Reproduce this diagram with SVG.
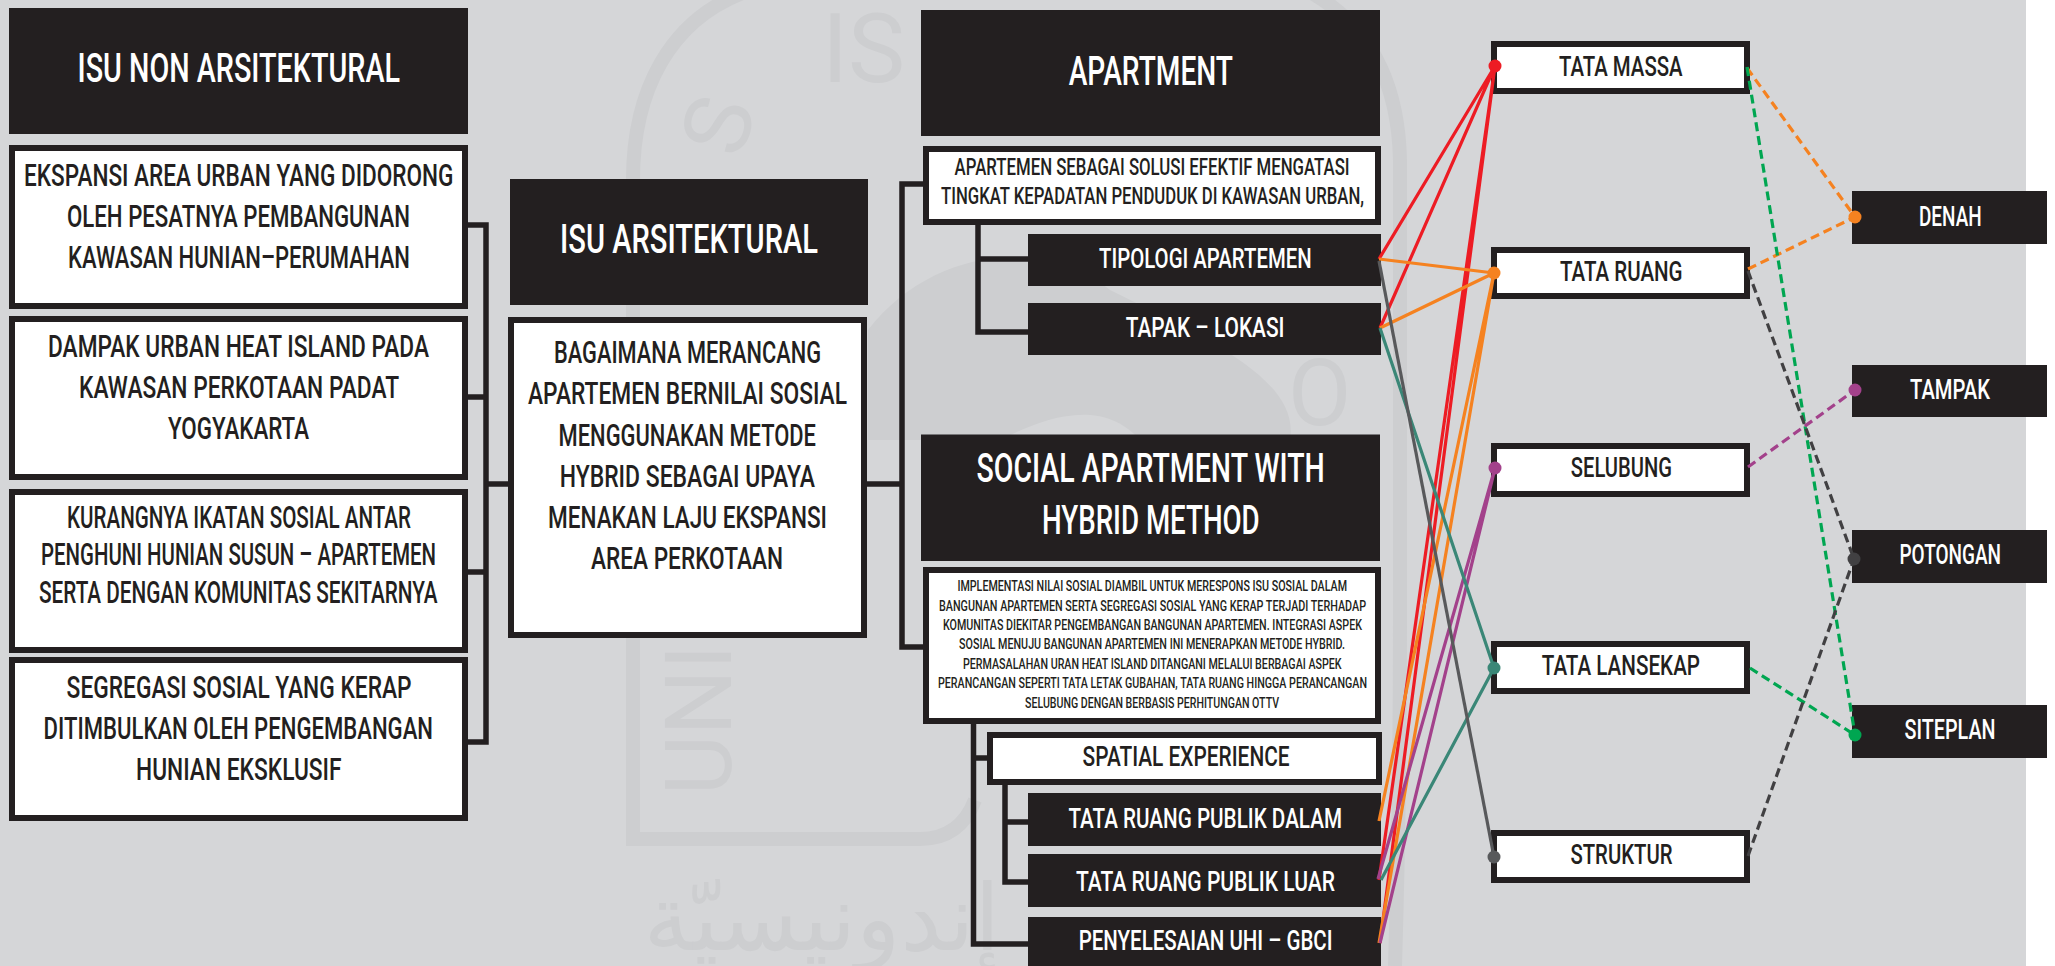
<svg xmlns="http://www.w3.org/2000/svg" width="2055" height="966" viewBox="0 0 2055 966">
<defs><style>
text{font-family:"Roboto","Liberation Sans",sans-serif;font-weight:500;text-anchor:start}
.d{fill:#231f20}
.w{fill:#fff;stroke:#231f20;stroke-width:6}
.tw{fill:#fff}
.tk{fill:#231f20}
.h{font-size:41px}
.b{font-size:30.5px}
.a{font-size:23px}
.s{font-size:15px}
.m{font-size:28px}
.t{fill:none;stroke:#231f20;stroke-width:5.5}
.c{fill:none;stroke-width:3.2}
.x{stroke-dasharray:9 5;stroke-width:3.2;fill:none}
.r{stroke:#ed1c24}.o{stroke:#f58220}.p{stroke:#a3418b}.g{stroke:#3a8777}.y{stroke:#58595b}.n{stroke:#00a651}.k{stroke:#414042}
.wm{fill:none;stroke:#cdced0;stroke-width:14}
.wt{fill:#cdced0;font-weight:400}
</style></defs>
<rect width="2055" height="966" fill="#fff"/>
<rect width="2026" height="966" fill="#d5d6d8"/>
<g id="watermark">
<path class="wm" d="M975 800Q960 839 920 839H633V180C633 90 670 20 745-8"/>
<path class="wm" d="M1395 966Q1400 800 1400 620V160C1398 70 1360 20 1310-8"/>
<path d="M868 330C930 250 1040 235 1110 290C1210 340 1300 380 1290 440H1140C1100 395 1040 420 1000 440L868 440Z" fill="#cdced0"/>
<text class="wt" x="822" y="82" font-size="96">IS</text>
<text class="wt" transform="translate(742 160) rotate(-75)" font-size="92">S</text>
<text class="wt" transform="translate(731 795) rotate(-90)" font-size="92">UNI</text>
<text class="wt" x="1288" y="425" font-size="92">O</text>
<text class="wt" x="1000" y="950" direction="rtl" font-size="92" style="font-family:'DejaVu Sans',sans-serif">إندونيسيّة</text>
</g>
<g id="trunks">
<path class="t" d="M468 225H486V742H468M468 397H486M468 572H486M486 484H512"/>
<path class="t" d="M867 484H902M923 184H902V647H923"/>
<path class="t" d="M978 225V332H1028M978 259H1028"/>
<path class="t" d="M973.500 724V944H1028M973.500 758H987"/>
<path class="t" d="M1005 785V882H1028M1005 822H1028"/>
</g>
<g id="isu-non-arsitektural"><rect class="d" x="9" y="8" width="459" height="126"/><text class="h tw" x="77.500" y="82" textLength="322.500" lengthAdjust="spacingAndGlyphs">ISU NON ARSITEKTURAL</text></g>
<g id="ekspansi"><rect class="w" x="12" y="148" width="453" height="158"/>
<text class="b tk" x="24" y="185.700" textLength="429.500" lengthAdjust="spacingAndGlyphs">EKSPANSI AREA URBAN YANG DIDORONG</text>
<text class="b tk" x="67" y="226.700" textLength="343" lengthAdjust="spacingAndGlyphs">OLEH PESATNYA PEMBANGUNAN</text>
<text class="b tk" x="68" y="267.700" textLength="342" lengthAdjust="spacingAndGlyphs">KAWASAN HUNIAN–PERUMAHAN</text></g>
<g id="dampak"><rect class="w" x="12" y="319" width="453" height="158"/>
<text class="b tk" x="48" y="356.700" textLength="381" lengthAdjust="spacingAndGlyphs">DAMPAK URBAN HEAT ISLAND PADA</text>
<text class="b tk" x="79" y="398" textLength="320" lengthAdjust="spacingAndGlyphs">KAWASAN PERKOTAAN PADAT</text>
<text class="b tk" x="168" y="439" textLength="141" lengthAdjust="spacingAndGlyphs">YOGYAKARTA</text></g>
<g id="kurangnya"><rect class="w" x="12" y="492" width="453" height="158"/>
<text class="b tk" x="67" y="527.700" textLength="344" lengthAdjust="spacingAndGlyphs">KURANGNYA IKATAN SOSIAL ANTAR</text>
<text class="b tk" x="41" y="565" textLength="395" lengthAdjust="spacingAndGlyphs">PENGHUNI HUNIAN SUSUN – APARTEMEN</text>
<text class="b tk" x="39" y="602.700" textLength="398.500" lengthAdjust="spacingAndGlyphs">SERTA DENGAN KOMUNITAS SEKITARNYA</text></g>
<g id="segregasi"><rect class="w" x="12" y="660" width="453" height="158"/>
<text class="b tk" x="66.600" y="698" textLength="345" lengthAdjust="spacingAndGlyphs">SEGREGASI SOSIAL YANG KERAP</text>
<text class="b tk" x="43.600" y="739" textLength="389.400" lengthAdjust="spacingAndGlyphs">DITIMBULKAN OLEH PENGEMBANGAN</text>
<text class="b tk" x="136" y="780" textLength="205.600" lengthAdjust="spacingAndGlyphs">HUNIAN EKSKLUSIF</text></g>
<g id="isu-arsitektural"><rect class="d" x="510" y="179" width="358" height="126"/><text class="h tw" x="560" y="252.700" textLength="258" lengthAdjust="spacingAndGlyphs">ISU ARSITEKTURAL</text></g>
<g id="bagaimana"><rect class="w" x="511" y="320" width="353" height="315"/>
<text class="b tk" x="554" y="363.300" textLength="267" lengthAdjust="spacingAndGlyphs">BAGAIMANA MERANCANG</text>
<text class="b tk" x="528" y="404" textLength="319" lengthAdjust="spacingAndGlyphs">APARTEMEN BERNILAI SOSIAL</text>
<text class="b tk" x="558.600" y="445.700" textLength="257.400" lengthAdjust="spacingAndGlyphs">MENGGUNAKAN METODE</text>
<text class="b tk" x="559.700" y="486.700" textLength="255.300" lengthAdjust="spacingAndGlyphs">HYBRID SEBAGAI UPAYA</text>
<text class="b tk" x="548" y="527.700" textLength="279" lengthAdjust="spacingAndGlyphs">MENAKAN LAJU EKSPANSI</text>
<text class="b tk" x="591" y="568.700" textLength="192" lengthAdjust="spacingAndGlyphs">AREA PERKOTAAN</text></g>
<g id="apartment"><rect class="d" x="921" y="10" width="459" height="126"/><text class="h tw" x="1068.700" y="85" textLength="164.300" lengthAdjust="spacingAndGlyphs">APARTMENT</text></g>
<g id="apartemen-desc"><rect class="w" x="926" y="149" width="452" height="73"/>
<text class="a tk" x="954.600" y="175.300" textLength="395" lengthAdjust="spacingAndGlyphs">APARTEMEN SEBAGAI SOLUSI EFEKTIF MENGATASI</text>
<text class="a tk" x="941" y="204.300" textLength="423" lengthAdjust="spacingAndGlyphs">TINGKAT KEPADATAN PENDUDUK DI KAWASAN URBAN,</text></g>
<g id="tipologi"><rect class="d" x="1028" y="234" width="353" height="52"/><text class="m tw" x="1099" y="268.300" textLength="212.700" lengthAdjust="spacingAndGlyphs">TIPOLOGI APARTEMEN</text></g>
<g id="tapak"><rect class="d" x="1028" y="303" width="353" height="52"/><text class="m tw" x="1125.700" y="337.300" textLength="158.800" lengthAdjust="spacingAndGlyphs">TAPAK – LOKASI</text></g>
<g id="social-apartment"><rect class="d" x="921" y="434.500" width="459" height="126.500"/>
<text class="h tw" x="976.500" y="481.700" textLength="348.300" lengthAdjust="spacingAndGlyphs">SOCIAL APARTMENT WITH</text>
<text class="h tw" x="1042" y="534" textLength="217.700" lengthAdjust="spacingAndGlyphs">HYBRID METHOD</text></g>
<g id="implementasi"><rect class="w" x="926" y="570" width="452" height="151"/>
<text class="s tk" x="957.400" y="590.700" textLength="389.600" lengthAdjust="spacingAndGlyphs">IMPLEMENTASI NILAI SOSIAL DIAMBIL UNTUK MERESPONS ISU SOSIAL DALAM</text>
<text class="s tk" x="939" y="610.700" textLength="427" lengthAdjust="spacingAndGlyphs">BANGUNAN APARTEMEN SERTA SEGREGASI SOSIAL YANG KERAP TERJADI TERHADAP</text>
<text class="s tk" x="942.900" y="630" textLength="419.100" lengthAdjust="spacingAndGlyphs">KOMUNITAS DIEKITAR PENGEMBANGAN BANGUNAN APARTEMEN. INTEGRASI ASPEK</text>
<text class="s tk" x="959" y="649" textLength="386" lengthAdjust="spacingAndGlyphs">SOSIAL MENUJU BANGUNAN APARTEMEN INI MENERAPKAN METODE HYBRID.</text>
<text class="s tk" x="963" y="669" textLength="378.600" lengthAdjust="spacingAndGlyphs">PERMASALAHAN URAN HEAT ISLAND DITANGANI MELALUI BERBAGAI ASPEK</text>
<text class="s tk" x="938" y="688" textLength="429" lengthAdjust="spacingAndGlyphs">PERANCANGAN SEPERTI TATA LETAK GUBAHAN, TATA RUANG HINGGA PERANCANGAN</text>
<text class="s tk" x="1025" y="708" textLength="254" lengthAdjust="spacingAndGlyphs">SELUBUNG DENGAN BERBASIS PERHITUNGAN OTTV</text></g>
<g id="spatial"><rect class="w" x="990" y="735" width="389" height="47"/><text class="m tk" x="1082.500" y="766" textLength="207.100" lengthAdjust="spacingAndGlyphs">SPATIAL EXPERIENCE</text></g>
<g id="publik-dalam"><rect class="d" x="1028" y="793" width="353" height="53"/><text class="m tw" x="1068.400" y="828" textLength="273.600" lengthAdjust="spacingAndGlyphs">TATA RUANG PUBLIK DALAM</text></g>
<g id="publik-luar"><rect class="d" x="1028" y="854" width="353" height="53"/><text class="m tw" x="1076" y="890.700" textLength="259" lengthAdjust="spacingAndGlyphs">TATA RUANG PUBLIK LUAR</text></g>
<g id="penyelesaian"><rect class="d" x="1028" y="917" width="353" height="49"/><text class="m tw" x="1078.700" y="950" textLength="253.800" lengthAdjust="spacingAndGlyphs">PENYELESAIAN UHI – GBCI</text></g>
<g id="tata-massa"><rect class="w" x="1494" y="44" width="253" height="47"/><text class="m tk" x="1559" y="76" textLength="123.600" lengthAdjust="spacingAndGlyphs">TATA MASSA</text></g>
<g id="tata-ruang"><rect class="w" x="1494" y="250" width="253" height="46"/><text class="m tk" x="1560" y="281" textLength="122.600" lengthAdjust="spacingAndGlyphs">TATA RUANG</text></g>
<g id="selubung"><rect class="w" x="1494" y="446" width="253" height="48"/><text class="m tk" x="1570.800" y="476.700" textLength="101.200" lengthAdjust="spacingAndGlyphs">SELUBUNG</text></g>
<g id="tata-lansekap"><rect class="w" x="1494" y="644" width="253" height="47"/><text class="m tk" x="1541.800" y="675" textLength="158.200" lengthAdjust="spacingAndGlyphs">TATA LANSEKAP</text></g>
<g id="struktur"><rect class="w" x="1494" y="833" width="253" height="47"/><text class="m tk" x="1570.400" y="864" textLength="102.200" lengthAdjust="spacingAndGlyphs">STRUKTUR</text></g>
<g id="denah"><rect class="d" x="1852" y="191" width="195" height="53"/><text class="m tw" x="1919" y="226" textLength="62.600" lengthAdjust="spacingAndGlyphs">DENAH</text></g>
<g id="tampak"><rect class="d" x="1852" y="365" width="195" height="52"/><text class="m tw" x="1910" y="399" textLength="80" lengthAdjust="spacingAndGlyphs">TAMPAK</text></g>
<g id="potongan"><rect class="d" x="1852" y="530" width="195" height="53"/><text class="m tw" x="1899.500" y="564" textLength="101.500" lengthAdjust="spacingAndGlyphs">POTONGAN</text></g>
<g id="siteplan"><rect class="d" x="1852" y="705" width="195" height="53"/><text class="m tw" x="1904.500" y="739.300" textLength="91" lengthAdjust="spacingAndGlyphs">SITEPLAN</text></g>
<g id="connectors">
<path class="c r" d="M1379 259L1495 66M1380 328L1495 66M1379 880L1495 66M1380 943L1495 66"/>
<path class="c o" d="M1379 259L1494 273M1380 328L1494 273M1379 821L1494 273M1379 943L1494 273"/>
<path class="c p" d="M1378 879L1495 468M1380 943L1495 468"/>
<path class="c g" d="M1380 328L1494 668M1381 880L1494 668"/>
<path class="c y" d="M1379 261L1494 857"/>
<path class="x o" d="M1747 68L1855 217M1748 269L1855 217"/>
<path class="x n" d="M1747 67L1855 735M1750 668L1855 735"/>
<path class="x k" d="M1748 271L1854 559M1748 856L1854 559"/>
<path class="x p" d="M1748 467L1855 390"/>
<circle cx="1495" cy="66" r="6.500" fill="#ed1c24"/>
<circle cx="1494" cy="273" r="6.500" fill="#f58220"/>
<circle cx="1495" cy="468" r="6.500" fill="#a3418b"/>
<circle cx="1494" cy="668" r="6.500" fill="#3a8777"/>
<circle cx="1494" cy="857" r="6.500" fill="#58595b"/>
<circle cx="1855" cy="217" r="6.500" fill="#f58220"/>
<circle cx="1855" cy="390" r="6.500" fill="#a3418b"/>
<circle cx="1854" cy="559" r="6.500" fill="#414042"/>
<circle cx="1855" cy="735" r="6.500" fill="#00a651"/>
</g>
</svg>
